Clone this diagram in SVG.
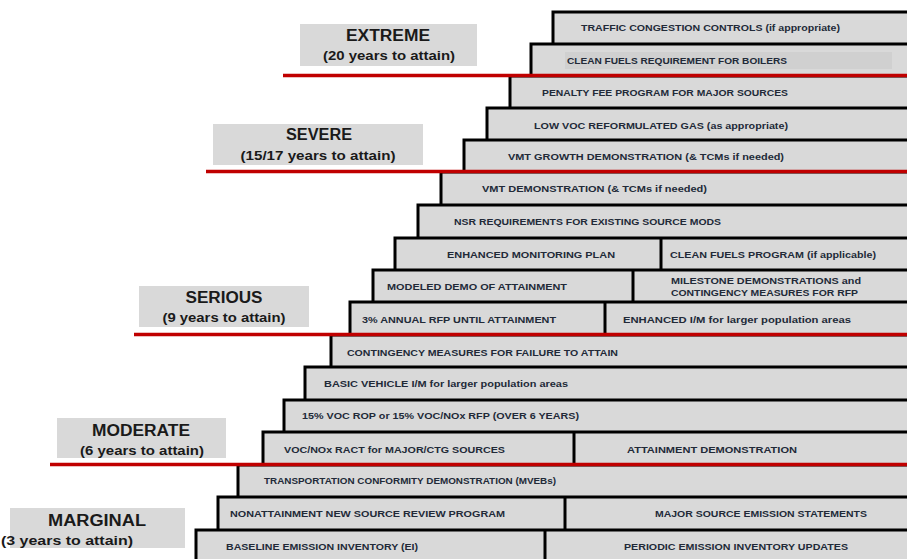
<svg xmlns="http://www.w3.org/2000/svg" width="907" height="559" viewBox="0 0 907 559">
<style>
.step{fill:#d9d9d9;stroke:#000;stroke-width:3}
.div{stroke:#000;stroke-width:3}
.lbl{fill:#d9d9d9}
.t{font-family:"Liberation Sans",Arial,sans-serif;font-weight:700;font-size:9px;fill:#222a38}
.h{font-family:"Liberation Sans",Arial,sans-serif;font-weight:700;font-size:16px;fill:#1a1a1a;text-anchor:middle}
.s{font-family:"Liberation Sans",Arial,sans-serif;font-weight:700;font-size:13px;fill:#1a1a1a;text-anchor:middle}
.red{stroke:#c00000;stroke-width:3.5}
</style>
<rect width="907" height="559" fill="#fff"/>
<g id="steps">
<g id="r1"><rect class="step" x="553" y="12" width="370" height="33"/><text class="t" x="581" y="31" textLength="259" lengthAdjust="spacingAndGlyphs">TRAFFIC CONGESTION CONTROLS (if appropriate)</text></g>
<g id="r2"><rect class="step" x="531" y="44" width="390" height="33"/><rect x="565" y="52" width="327" height="17" fill="#d0d0d0"/><text class="t" x="567" y="64" textLength="220" lengthAdjust="spacingAndGlyphs">CLEAN FUELS REQUIREMENT FOR BOILERS</text></g>
<g id="r3"><rect class="step" x="510" y="76" width="410" height="33"/><text class="t" x="542" y="96" textLength="246" lengthAdjust="spacingAndGlyphs">PENALTY FEE PROGRAM FOR MAJOR SOURCES</text></g>
<g id="r4"><rect class="step" x="487" y="108" width="430" height="33"/><text class="t" x="534" y="129" textLength="254" lengthAdjust="spacingAndGlyphs">LOW VOC REFORMULATED GAS (as appropriate)</text></g>
<g id="r5"><rect class="step" x="464" y="140" width="450" height="33"/><text class="t" x="508" y="160" textLength="276" lengthAdjust="spacingAndGlyphs">VMT GROWTH DEMONSTRATION (&amp; TCMs if needed)</text></g>
<g id="r6"><rect class="step" x="441" y="172" width="470" height="34"/><text class="t" x="482" y="192" textLength="225" lengthAdjust="spacingAndGlyphs">VMT DEMONSTRATION (&amp; TCMs if needed)</text></g>
<g id="r7"><rect class="step" x="418" y="205" width="500" height="34"/><text class="t" x="454" y="225" textLength="267" lengthAdjust="spacingAndGlyphs">NSR REQUIREMENTS FOR EXISTING SOURCE MODS</text></g>
<g id="r8"><rect class="step" x="395" y="238" width="520" height="33"/><line class="div" x1="661" y1="238" x2="661" y2="271"/><text class="t" x="447" y="258" textLength="168" lengthAdjust="spacingAndGlyphs">ENHANCED MONITORING PLAN</text><text class="t" x="670" y="258" textLength="206" lengthAdjust="spacingAndGlyphs">CLEAN FUELS PROGRAM (if applicable)</text></g>
<g id="r9"><rect class="step" x="373" y="270" width="540" height="33"/><line class="div" x1="633" y1="270" x2="633" y2="303"/><text class="t" x="387" y="290" textLength="180" lengthAdjust="spacingAndGlyphs">MODELED DEMO OF ATTAINMENT</text><text class="t" x="671" y="284" textLength="190" lengthAdjust="spacingAndGlyphs">MILESTONE DEMONSTRATIONS and</text><text class="t" x="671" y="296" textLength="187" lengthAdjust="spacingAndGlyphs">CONTINGENCY MEASURES FOR RFP</text></g>
<g id="r10"><rect class="step" x="350" y="302" width="560" height="34"/><line class="div" x1="605" y1="302" x2="605" y2="336"/><text class="t" x="362" y="323" textLength="194" lengthAdjust="spacingAndGlyphs">3% ANNUAL RFP UNTIL ATTAINMENT</text><text class="t" x="623" y="323" textLength="228" lengthAdjust="spacingAndGlyphs">ENHANCED I/M for larger population areas</text></g>
<g id="r11"><rect class="step" x="331" y="335" width="590" height="33"/><text class="t" x="347" y="356" textLength="271" lengthAdjust="spacingAndGlyphs">CONTINGENCY MEASURES FOR FAILURE TO ATTAIN</text></g>
<g id="r12"><rect class="step" x="305" y="367" width="610" height="34"/><text class="t" x="324" y="387" textLength="244" lengthAdjust="spacingAndGlyphs">BASIC VEHICLE I/M for larger population areas</text></g>
<g id="r13"><rect class="step" x="284" y="400" width="630" height="33"/><text class="t" x="302" y="419" textLength="277" lengthAdjust="spacingAndGlyphs">15% VOC ROP or 15% VOC/NOx RFP (OVER 6 YEARS)</text></g>
<g id="r14"><rect class="step" x="263" y="432" width="650" height="34"/><line class="div" x1="574" y1="432" x2="574" y2="466"/><text class="t" x="284" y="453" textLength="221" lengthAdjust="spacingAndGlyphs">VOC/NOx RACT for MAJOR/CTG SOURCES</text><text class="t" x="627" y="453" textLength="170" lengthAdjust="spacingAndGlyphs">ATTAINMENT DEMONSTRATION</text></g>
<g id="r15"><rect class="step" x="238" y="465" width="680" height="33"/><text class="t" x="264" y="484" textLength="292" lengthAdjust="spacingAndGlyphs">TRANSPORTATION CONFORMITY DEMONSTRATION (MVEBs)</text></g>
<g id="r16"><rect class="step" x="218" y="497" width="700" height="34"/><line class="div" x1="565" y1="497" x2="565" y2="531"/><text class="t" x="230" y="517" textLength="275" lengthAdjust="spacingAndGlyphs">NONATTAINMENT NEW SOURCE REVIEW PROGRAM</text><text class="t" x="655" y="517" textLength="212" lengthAdjust="spacingAndGlyphs">MAJOR SOURCE EMISSION STATEMENTS</text></g>
<g id="r17"><rect class="step" x="196" y="530" width="720" height="40"/><line class="div" x1="545" y1="530" x2="545" y2="570"/><text class="t" x="226" y="550" textLength="192" lengthAdjust="spacingAndGlyphs">BASELINE EMISSION INVENTORY (EI)</text><text class="t" x="624" y="550" textLength="224" lengthAdjust="spacingAndGlyphs">PERIODIC EMISSION INVENTORY UPDATES</text></g>
</g>
<g id="connectors">
<line class="red" x1="283" y1="75.5" x2="907" y2="75.5"/>
<line class="red" x1="206" y1="171.5" x2="907" y2="171.5"/>
<line class="red" x1="134" y1="334.5" x2="907" y2="334.5"/>
<line class="red" x1="50" y1="464.5" x2="907" y2="464.5"/>
</g>
<g id="extreme"><rect class="lbl" x="300" y="24" width="177" height="42"/><text class="h" x="388" y="41" textLength="84" lengthAdjust="spacingAndGlyphs">EXTREME</text><text class="s" x="389" y="60" textLength="132" lengthAdjust="spacingAndGlyphs">(20 years to attain)</text></g>
<g id="severe"><rect class="lbl" x="213" y="124" width="210" height="41"/><text class="h" x="319" y="140" textLength="66" lengthAdjust="spacingAndGlyphs">SEVERE</text><text class="s" x="318" y="160" textLength="155" lengthAdjust="spacingAndGlyphs">(15/17 years to attain)</text></g>
<g id="serious"><rect class="lbl" x="139" y="286" width="170" height="41"/><text class="h" x="224" y="303" textLength="77" lengthAdjust="spacingAndGlyphs">SERIOUS</text><text class="s" x="224" y="322" textLength="123" lengthAdjust="spacingAndGlyphs">(9 years to attain)</text></g>
<g id="moderate"><rect class="lbl" x="57" y="418" width="169" height="40"/><text class="h" x="141" y="436" textLength="98" lengthAdjust="spacingAndGlyphs">MODERATE</text><text class="s" x="142" y="455" textLength="124" lengthAdjust="spacingAndGlyphs">(6 years to attain)</text></g>
<g id="marginal"><rect class="lbl" x="10" y="508" width="175" height="40"/><text class="h" x="97" y="526" textLength="98" lengthAdjust="spacingAndGlyphs">MARGINAL</text><text class="s" x="67" y="545" textLength="132" lengthAdjust="spacingAndGlyphs">(3 years to attain)</text></g>
</svg>
